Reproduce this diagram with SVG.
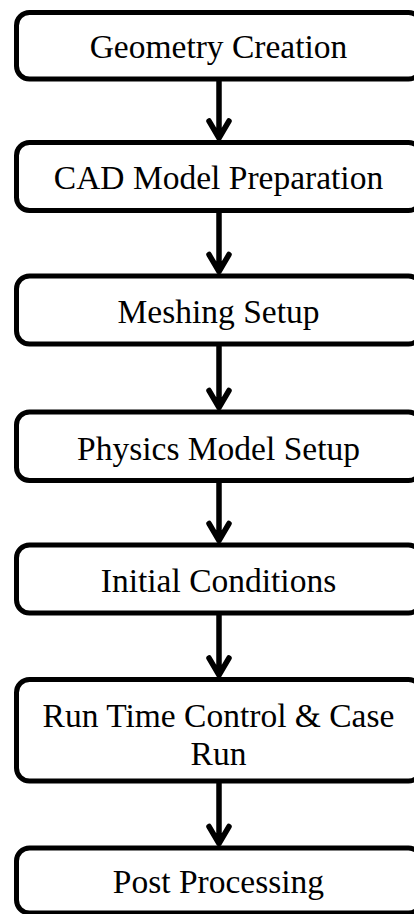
<svg xmlns="http://www.w3.org/2000/svg" width="414" height="914" viewBox="0 0 414 914">
<style>
.box{fill:#fff;stroke:#000;stroke-width:5}
.lbl{font-family:"Liberation Serif","Times New Roman",serif;font-size:33.5px;fill:#000;text-anchor:middle}
.arr{fill:none;stroke:#000;stroke-width:5.5;stroke-linecap:round;stroke-linejoin:round}
</style>
<rect width="414" height="914" fill="#fff"/>
<g id="connectors">
<path class="arr" d="M219,81.5V138M209,121L219,138L229,121"/>
<path class="arr" d="M219,213V271.5M209,254.5L219,271.5L229,254.5"/>
<path class="arr" d="M219,346.5V407.5M209,390.5L219,407.5L229,390.5"/>
<path class="arr" d="M219,483V540.5M209,523.5L219,540.5L229,523.5"/>
<path class="arr" d="M219,615.5V675M209,658L219,675L229,658"/>
<path class="arr" d="M219,783.5V843.5M209,826.5L219,843.5L229,826.5"/>
</g>
<g id="n1"><rect class="box" x="16.5" y="12.5" width="405" height="66.5" rx="13"/><text class="lbl" x="218.5" y="58">Geometry Creation</text></g>
<g id="n2"><rect class="box" x="16.5" y="142.5" width="405" height="68" rx="13"/><text class="lbl" x="218.5" y="189">CAD Model Preparation</text></g>
<g id="n3"><rect class="box" x="16.5" y="276" width="405" height="68" rx="13"/><text class="lbl" x="218.5" y="323">Meshing Setup</text></g>
<g id="n4"><rect class="box" x="16.5" y="412" width="405" height="68.5" rx="13"/><text class="lbl" x="218.5" y="459.5">Physics Model Setup</text></g>
<g id="n5"><rect class="box" x="16.5" y="545" width="405" height="68" rx="13"/><text class="lbl" x="218.5" y="592">Initial Conditions</text></g>
<g id="n6"><rect class="box" x="16.5" y="679.5" width="405" height="101.5" rx="13"/><text class="lbl" x="218.5" y="727">Run Time Control &amp; Case</text><text class="lbl" x="218.5" y="765">Run</text></g>
<g id="n7"><rect class="box" x="16.5" y="848" width="405" height="65" rx="13"/><text class="lbl" x="218.5" y="893">Post Processing</text></g>
</svg>
